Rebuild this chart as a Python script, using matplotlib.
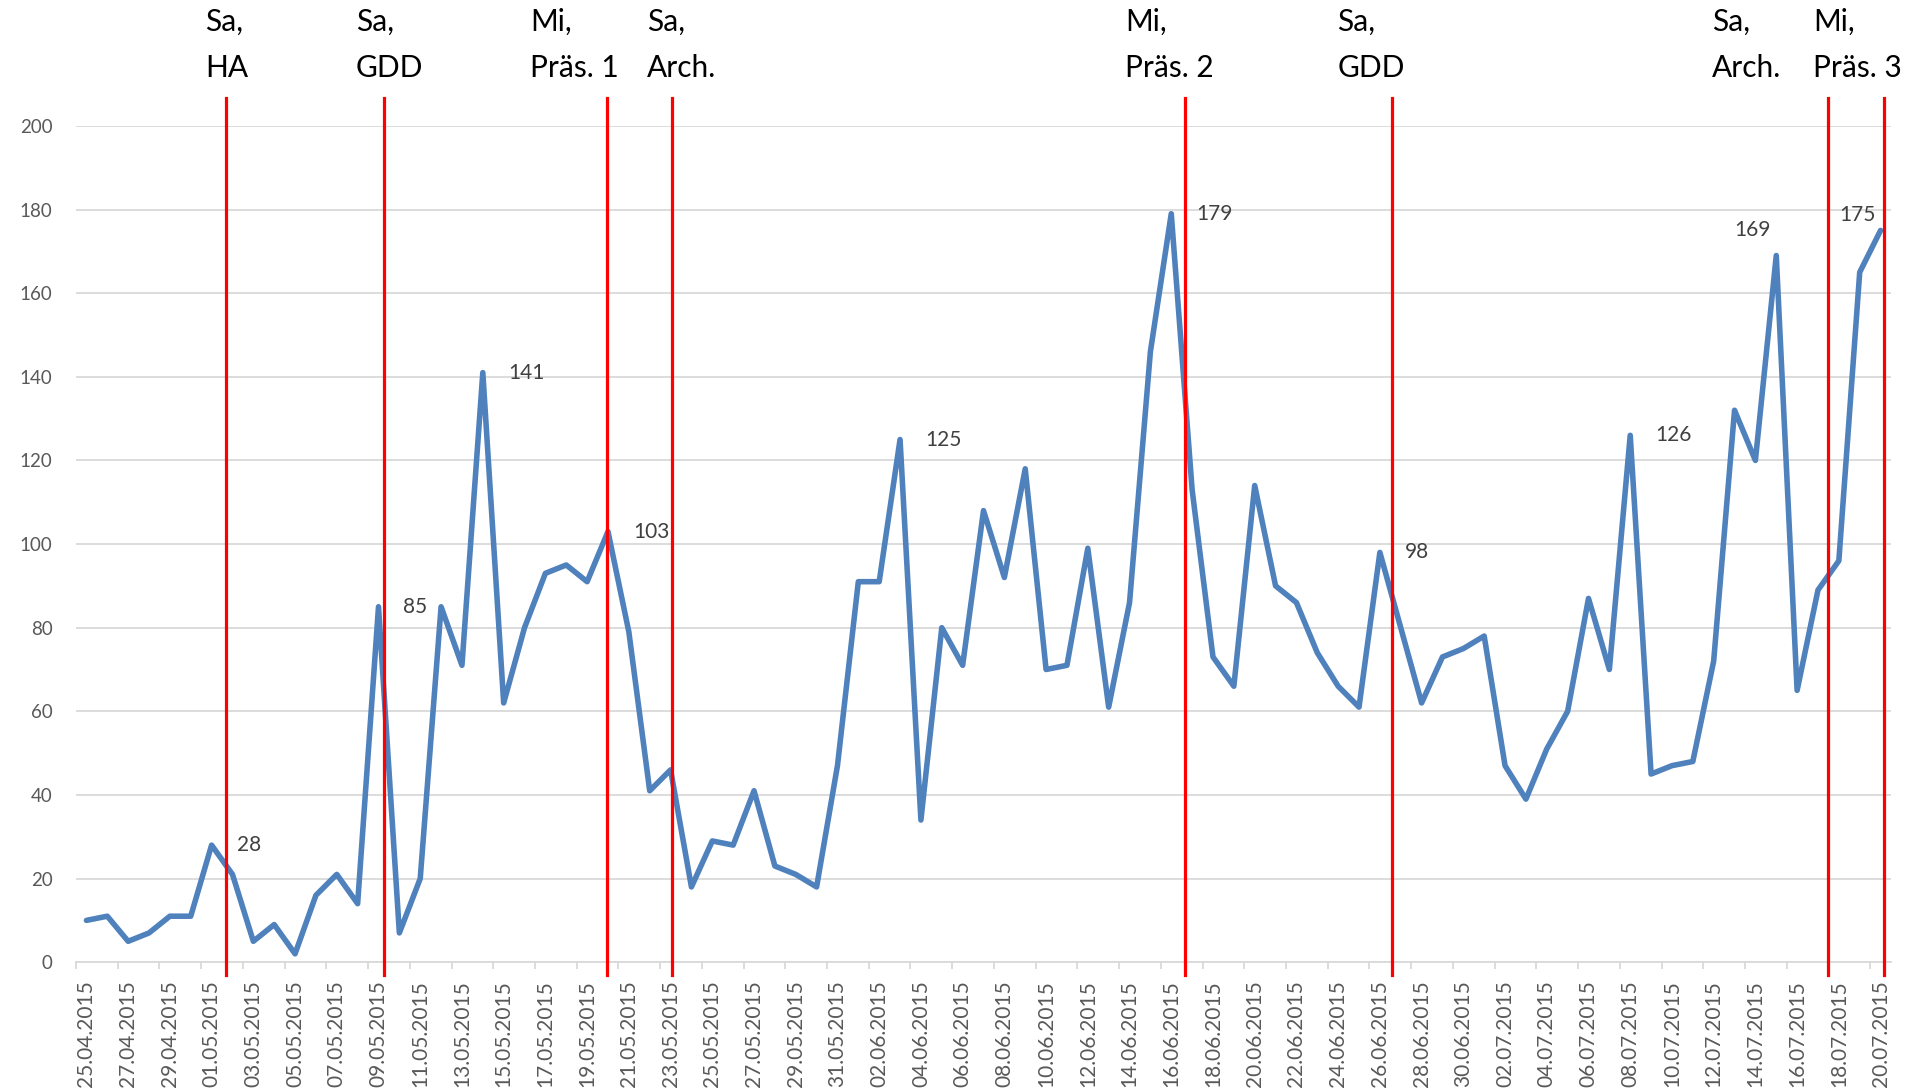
import matplotlib
matplotlib.use("Agg")
import matplotlib.pyplot as plt
import matplotlib.transforms as mtransforms
import numpy as np
import pandas as pd

# ---------------- data ----------------
dates = pd.date_range("2015-04-25", "2015-07-20", freq="D")
date_labels = [d.strftime("%d.%m.%Y") for d in dates]

values = [
    10, 11, 5, 7, 11, 11, 28, 21, 5, 9, 2, 16, 21, 14, 85, 7, 20, 85, 71, 141,
    62, 80, 93, 95, 91, 103, 79, 41, 46, 18, 29, 28, 41, 23, 21, 18, 47, 91, 91, 125,
    34, 80, 71, 108, 92, 118, 70, 71, 99, 61, 86, 146, 179, 113, 73, 66, 114, 90, 86, 74, 66, 61,
    98, 80, 62, 73, 75, 78, 47, 39, 51, 60, 87, 70, 126, 45, 47, 48, 72, 132, 120, 169, 65, 89, 96, 165, 175,
]

# indices of points that carry a data label
labelled_idx = [6, 14, 19, 25, 39, 52, 62, 74, 81, 86]

# event annotations (two text lines each)
event_top = ["Sa,", "Sa,", "Mi,", "Sa,", "Mi,", "Sa,", "Sa,", "Mi,"]
event_bottom = ["HA", "GDD", "Präs. 1", "Arch.", "Präs. 2", "GDD", "Arch.", "Präs. 3"]

# ---------------- layout (positions in category units) ----------------
event_line_x = [6.68, 14.24, 24.96, 28.06, 52.64, 62.58, 83.49, 86.17]
event_text_x = [5.70, 12.92, 21.28, 26.87, 49.79, 59.97, 77.90, 82.78]
label_offsets = {81: (-17.3, 18.7, "center"), 86: (-16.6, 10.8, "center")}
default_offset = (18.0, 0.0, "left")

W, H = 1917, 1090
fig = plt.figure(figsize=(W / 100, H / 100), dpi=100)
ax_left, ax_right, ax_top, ax_bottom = 76, 1891, 125.9, 962.2
ax = fig.add_axes([ax_left / W, 1 - ax_bottom / H,
                   (ax_right - ax_left) / W, (ax_bottom - ax_top) / H])

x = np.arange(len(values))
ax.plot(x, values, color="#4F81BD", lw=4.0, solid_joinstyle="round",
        solid_capstyle="round", zorder=3)

ax.set_xlim(-0.5, len(values) - 0.5)
ax.set_ylim(0, 200)

grid_c = "#D9D9D9"
ax.set_yticks(np.arange(0, 201, 20))
ax.yaxis.grid(True, color=grid_c, lw=1.3, zorder=0)
ax.set_axisbelow(True)
for s in ["top", "right", "left"]:
    ax.spines[s].set_visible(False)
ax.spines["bottom"].set_color(grid_c)
ax.spines["bottom"].set_linewidth(1.3)

ax.tick_params(axis="y", length=0, pad=17, labelsize=13.5, labelcolor="#595959")
for t in ax.get_yticklabels():
    t.set_fontfamily("Lato")

major = np.arange(0, len(values), 2)
ax.set_xticks(major)
ax.set_xticklabels([date_labels[i] for i in major], rotation=90,
                   fontfamily="Lato", fontsize=15, color="#595959")
ax.tick_params(axis="x", which="major", length=0, pad=13)
ax.set_xticks(np.arange(-0.5, len(values) - 1, 2), minor=True)
ax.tick_params(axis="x", which="minor", length=5, width=1.3, color=grid_c,
               direction="out")

# data labels
for i in labelled_idx:
    dx, dy, ha = label_offsets.get(i, default_offset)
    ax.annotate(str(values[i]), (x[i], values[i]), xytext=(dx, dy),
                textcoords="offset points", ha=ha, va="center",
                fontsize=15, fontfamily="Lato", color="#404040", zorder=5)

# red event lines
for ex in event_line_x:
    ax.axvline(ex, ymin=-3.06 / 200, ymax=206.7 / 200, color="#FF0000",
               lw=2.3, clip_on=False, zorder=4)

# event texts above the plot
trans = mtransforms.blended_transform_factory(ax.transData, fig.transFigure)
for tx, top, bot in zip(event_text_x, event_top, event_bottom):
    ax.text(tx, 1 - 31 / H, top, transform=trans, ha="left", va="baseline",
            fontsize=21.5, fontfamily="Lato", color="black")
    ax.text(tx, 1 - 77 / H, bot, transform=trans, ha="left", va="baseline",
            fontsize=21.5, fontfamily="Lato", color="black")

fig.savefig("out.png", dpi=100, facecolor="white")
